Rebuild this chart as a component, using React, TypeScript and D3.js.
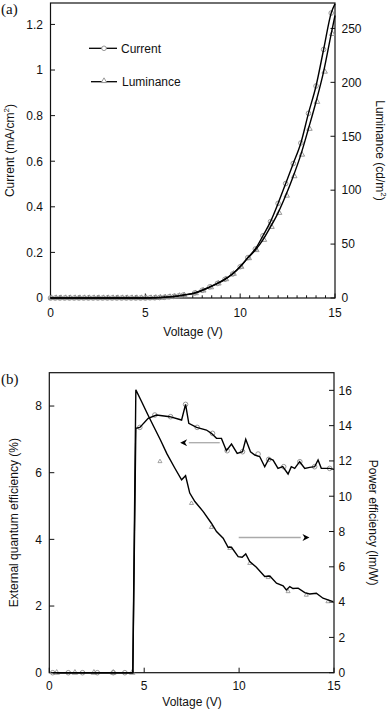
import React from 'react';
import * as d3 from 'd3';

// ---------- Panel (a) data ----------
const voltageA = [0, 0.25, 0.5, 0.75, 1, 1.25, 1.5, 1.75, 2, 2.25, 2.5, 2.75, 3, 3.25, 3.5, 3.75, 4, 4.25, 4.5, 4.75, 5, 5.25, 5.5, 5.75, 6, 6.25, 6.5, 6.75, 7, 7.6, 8, 8.4, 8.8, 9.2, 9.6, 10, 10.4, 10.8, 11.2, 11.6, 12, 12.4, 12.8, 13.2, 13.6, 14, 14.4, 14.8, 15];
const currentA = [0, 0, 0, 0, 0, 0, 0, 0, 0, 0, 0, 0, 0, 0, 0, 0, 0, 0, 0, 0, 0, 0.001, 0.001, 0.002, 0.003, 0.005, 0.007, 0.009, 0.013, 0.022, 0.034, 0.049, 0.064, 0.082, 0.105, 0.137, 0.177, 0.215, 0.273, 0.335, 0.415, 0.502, 0.59, 0.68, 0.81, 0.93, 1.09, 1.25, 1.29];
const luminanceA = [0, 0, 0, 0, 0, 0, 0, 0, 0, 0, 0, 0, 0, 0, 0, 0, 0, 0, 0, 0, 0, 0, 0.2, 0.4, 0.7, 1.0, 1.4, 2.0, 2.6, 4.5, 7, 10, 13.5, 17.5, 22.5, 29, 37, 44.5, 54, 66, 79, 95, 113, 133, 157, 182, 210, 245, 262];
const ticksAL = [0, 0.2, 0.4, 0.6, 0.8, 1, 1.2];
const ticksAR = [0, 50, 100, 150, 200, 250];
const ticksX = [0, 5, 10, 15];

// ---------- Panel (b) data ----------
const eqeV = [0.18, 1.0, 1.75, 2.53, 3.37, 3.98, 4.4, 4.56, 4.77, 5.21, 5.65, 6.35, 6.97, 7.18, 7.35, 7.76, 8.28, 8.54, 8.81, 9.07, 9.33, 9.6, 9.9, 10.18, 10.35, 10.6, 10.83, 11.09, 11.35, 11.58, 11.79, 12.05, 12.3, 12.58, 12.75, 12.93, 13.19, 13.46, 13.72, 13.98, 14.16, 14.33, 14.77, 15.0];
const eqeVal = [0, 0, 0, 0, 0, 0, 0, 7.33, 7.36, 7.63, 7.73, 7.68, 7.58, 8.05, 7.48, 7.36, 7.28, 7.18, 7.03, 7.03, 6.66, 6.86, 6.58, 6.63, 7.0, 6.63, 6.53, 6.48, 6.18, 6.43, 6.38, 6.13, 6.18, 5.96, 6.18, 6.13, 6.33, 6.13, 6.16, 6.18, 6.38, 6.13, 6.13, 6.1];
const eqeMarkV = [0.18, 1.0, 1.75, 2.53, 3.37, 3.98, 4.77, 5.56, 6.39, 7.18, 7.79, 8.6, 9.37, 10.18, 11.0, 11.56, 12.35, 13.2, 13.98, 14.77];
const eqeMarkVal = [0, 0, 0, 0, 0, 0, 7.36, 7.73, 7.68, 8.05, 7.36, 7.18, 6.66, 6.63, 6.56, 6.4, 6.18, 6.33, 6.18, 6.13];

const peV = [0.39, 1.35, 2.35, 3.37, 4.4, 4.56, 4.86, 5.2, 5.5, 5.85, 6.2, 6.61, 6.97, 7.18, 7.4, 7.67, 8.11, 8.54, 8.81, 9.16, 9.42, 9.6, 9.95, 10.16, 10.35, 10.56, 10.91, 11.35, 11.62, 11.97, 12.32, 12.49, 12.67, 12.84, 13.11, 13.46, 13.72, 14.07, 14.42, 14.95];
const peVal = [0, 0, 0, 0, 0, 16.03, 15.37, 14.6, 13.95, 13.2, 12.4, 11.6, 10.93, 11.16, 10.18, 9.7, 9.13, 8.47, 8.0, 7.62, 7.11, 7.11, 6.58, 6.54, 6.73, 6.3, 5.98, 5.45, 5.48, 5.07, 4.92, 4.69, 4.88, 4.77, 4.79, 4.54, 4.46, 4.5, 4.22, 4.03];
const peMarkV = [0.39, 1.35, 2.35, 3.37, 4.37, 5.83, 7.49, 8.54, 9.51, 10.56, 11.53, 12.58, 13.54, 14.68];
const peMarkVal = [0, 0, 0, 0, 0, 11.97, 9.6, 8.24, 7.05, 6.2, 5.4, 4.6, 4.4, 4.03];

const ticksBL = [0, 2, 4, 6, 8];
const ticksBR = [0, 2, 4, 6, 8, 10, 12, 14, 16];

// arrow annotations in data units: [fromV, toV, level]
const arrowEqe = [8.98, 6.93, 6.9];
const arrowPe = [9.98, 13.67, 7.66];

const FONT = "'Liberation Sans', Arial, Helvetica, sans-serif";
const SERIF = "'Liberation Serif', 'Times New Roman', serif";
const GREY = '#8c8c8c';

export default function App() {
  // Panel A scales
  const xA = d3.scaleLinear().domain([0, 15]).range([50.5, 335]);
  const yAL = d3.scaleLinear().domain([0, 1.294]).range([298, 3]);
  const yAR = d3.scaleLinear().domain([0, 273.6]).range([298, 3]);
  // Panel B scales
  const xB = d3.scaleLinear().domain([0, 15]).range([49.3, 334]);
  const yBL = d3.scaleLinear().domain([0, 9]).range([672.7, 372.7]);
  const yBR = d3.scaleLinear().domain([0, 17]).range([672.7, 372.7]);

  const lineCur = d3.line<number>().x((_, i) => xA(voltageA[i])).y((d) => yAL(d)).curve(d3.curveMonotoneX);
  const lineLum = d3.line<number>().x((_, i) => xA(voltageA[i])).y((d) => yAR(d)).curve(d3.curveMonotoneX);
  const lineEqe = d3.line<number>().x((_, i) => xB(eqeV[i])).y((d) => yBL(d));
  const linePe = d3.line<number>().x((_, i) => xB(peV[i])).y((d) => yBR(d));

  const triA = d3.symbol(d3.symbolTriangle, 13)() as string;
  const triB = d3.symbol(d3.symbolTriangle, 7)() as string;

  const minorA = d3.range(0, 15.001, 0.5);

  const tickText = { fontFamily: FONT, fontSize: 12, fill: '#111' } as const;

  return (
    <svg width={390} height={710} style={{ position: 'absolute', left: 0, top: 0, background: '#fff' }}>
      <defs>
        <marker id="ah" viewBox="0 0 10 10" refX="9" refY="5" markerWidth="10" markerHeight="7" markerUnits="userSpaceOnUse" orient="auto">
          <path d="M0,0 L10,5 L0,10 L3,5 Z" fill="#000" />
        </marker>
      </defs>

      {/* ================= Panel (a) ================= */}
      <text x={1} y={14} fontFamily={SERIF} fontSize={15} fill="#111">(a)</text>
      <rect x={xA(0)} y={yAL(1.294)} width={xA(15) - xA(0)} height={yAL(0) - yAL(1.294)} fill="none" stroke="#111" strokeWidth={1.2} />
      {minorA.map((v) => (
        <line key={'am' + v} x1={xA(v)} x2={xA(v)} y1={yAL(0)} y2={yAL(0) - (v % 5 === 0 ? 4.5 : 2.7)} stroke="#111" strokeWidth={1} />
      ))}
      {ticksX.map((v) => (
        <text key={'axl' + v} x={xA(v)} y={317} textAnchor="middle" {...tickText}>{v}</text>
      ))}
      {ticksAL.map((v) => (
        <g key={'al' + v}>
          <line x1={xA(0)} x2={xA(0) + 4.5} y1={yAL(v)} y2={yAL(v)} stroke="#111" strokeWidth={1} />
          <text x={43} y={yAL(v) + 4.3} textAnchor="end" {...tickText}>{v}</text>
        </g>
      ))}
      {ticksAR.map((v) => (
        <g key={'ar' + v}>
          <line x1={xA(15)} x2={xA(15) - 4.5} y1={yAR(v)} y2={yAR(v)} stroke="#111" strokeWidth={1} />
          <text x={341.5} y={yAR(v) + 4.3} textAnchor="start" {...tickText}>{v}</text>
        </g>
      ))}
      <text x={193} y={336} textAnchor="middle" {...tickText}>Voltage (V)</text>
      <text transform={`translate(14,${(yAL(0) + yAL(1.294)) / 2}) rotate(-90)`} textAnchor="middle" {...tickText}>
        Current (mA/cm<tspan dy={-5} fontSize={8}>2</tspan><tspan dy={5}>)</tspan>
      </text>
      <text transform={`translate(376,${(yAL(0) + yAL(1.294)) / 2}) rotate(90)`} textAnchor="middle" {...tickText}>
        Luminance (cd/m<tspan dy={-5} fontSize={8}>2</tspan><tspan dy={5}>)</tspan>
      </text>

      {/* markers */}
      {currentA.map((d, i) =>
        voltageA[i] <= 14.85 ? (
          <circle key={'cm' + i} cx={xA(voltageA[i])} cy={yAL(d)} r={2.3} fill="none" stroke={GREY} strokeWidth={0.9} />
        ) : null
      )}
      {luminanceA.map((d, i) =>
        voltageA[i] <= 14.85 ? (
          <path key={'lm' + i} d={triA} transform={`translate(${xA(voltageA[i]) + 1},${yAR(d)})`} fill="none" stroke={GREY} strokeWidth={0.9} />
        ) : null
      )}
      <path d={lineCur(currentA) as string} fill="none" stroke="#000" strokeWidth={1.4} />
      <path d={lineLum(luminanceA) as string} fill="none" stroke="#000" strokeWidth={1.4} />

      {/* legend */}
      <line x1={89} x2={117} y1={48.3} y2={48.3} stroke="#000" strokeWidth={1.3} />
      <circle cx={104} cy={48.3} r={2.3} fill="#fff" stroke={GREY} strokeWidth={0.9} />
      <text x={121} y={52.5} {...tickText}>Current</text>
      <line x1={91} x2={117} y1={81.7} y2={81.7} stroke="#000" strokeWidth={1.3} />
      <path d={triA} transform="translate(104,81)" fill="#fff" stroke={GREY} strokeWidth={0.9} />
      <text x={122} y={86} {...tickText}>Luminance</text>

      {/* ================= Panel (b) ================= */}
      <text x={1} y={384} fontFamily={SERIF} fontSize={15} fill="#111">(b)</text>
      <rect x={xB(0)} y={yBL(9)} width={xB(15) - xB(0)} height={yBL(0) - yBL(9)} fill="none" stroke="#111" strokeWidth={1.2} />
      {ticksX.map((v) => (
        <g key={'bx' + v}>
          <line x1={xB(v)} x2={xB(v)} y1={yBL(0)} y2={yBL(0) - 5} stroke="#111" strokeWidth={1} />
          <text x={xB(v)} y={690} textAnchor="middle" {...tickText}>{v}</text>
        </g>
      ))}
      {ticksBL.map((v) => (
        <g key={'bl' + v}>
          <line x1={xB(0)} x2={xB(0) + 5} y1={yBL(v)} y2={yBL(v)} stroke="#111" strokeWidth={1} />
          <text x={42} y={yBL(v) + 4.3} textAnchor="end" {...tickText}>{v}</text>
        </g>
      ))}
      {ticksBR.map((v) => (
        <g key={'br' + v}>
          <line x1={xB(15)} x2={xB(15) - 5} y1={yBR(v)} y2={yBR(v)} stroke="#111" strokeWidth={1} />
          <text x={338.5} y={yBR(v) + 4.3} textAnchor="start" {...tickText}>{v}</text>
        </g>
      ))}
      <text x={192} y={706} textAnchor="middle" {...tickText}>Voltage (V)</text>
      <text transform={`translate(17.5,${(yBL(0) + yBL(9)) / 2}) rotate(-90)`} textAnchor="middle" {...tickText}>
        External quantum efficiency (%)
      </text>
      <text transform={`translate(369,${(yBL(0) + yBL(9)) / 2}) rotate(90)`} textAnchor="middle" {...tickText}>
        Power efficiency (lm/W)
      </text>

      {eqeMarkVal.map((d, i) => (
        <circle key={'em' + i} cx={xB(eqeMarkV[i])} cy={yBL(d)} r={2.3} fill="none" stroke={GREY} strokeWidth={0.9} />
      ))}
      {peMarkVal.map((d, i) => (
        <path key={'pm' + i} d={i < 5 ? triA : triB} transform={`translate(${xB(peMarkV[i])},${yBR(d)})`} fill="none" stroke={GREY} strokeWidth={0.8} />
      ))}
      <path d={lineEqe(eqeVal) as string} fill="none" stroke="#000" strokeWidth={1.4} />
      <path d={linePe(peVal) as string} fill="none" stroke="#000" strokeWidth={1.4} />

      {/* arrows */}
      <line x1={xB(arrowEqe[0])} x2={xB(arrowEqe[1]) + 8} y1={yBL(arrowEqe[2])} y2={yBL(arrowEqe[2])} stroke="#aaa" strokeWidth={1.3} />
      <line x1={xB(arrowEqe[1]) + 9} x2={xB(arrowEqe[1])} y1={yBL(arrowEqe[2])} y2={yBL(arrowEqe[2])} stroke="none" markerEnd="url(#ah)" />
      <line x1={xB(arrowPe[0])} x2={xB(arrowPe[1]) - 8} y1={yBR(arrowPe[2])} y2={yBR(arrowPe[2])} stroke="#aaa" strokeWidth={1.3} />
      <line x1={xB(arrowPe[1]) - 9} x2={xB(arrowPe[1])} y1={yBR(arrowPe[2])} y2={yBR(arrowPe[2])} stroke="none" markerEnd="url(#ah)" />
    </svg>
  );
}
